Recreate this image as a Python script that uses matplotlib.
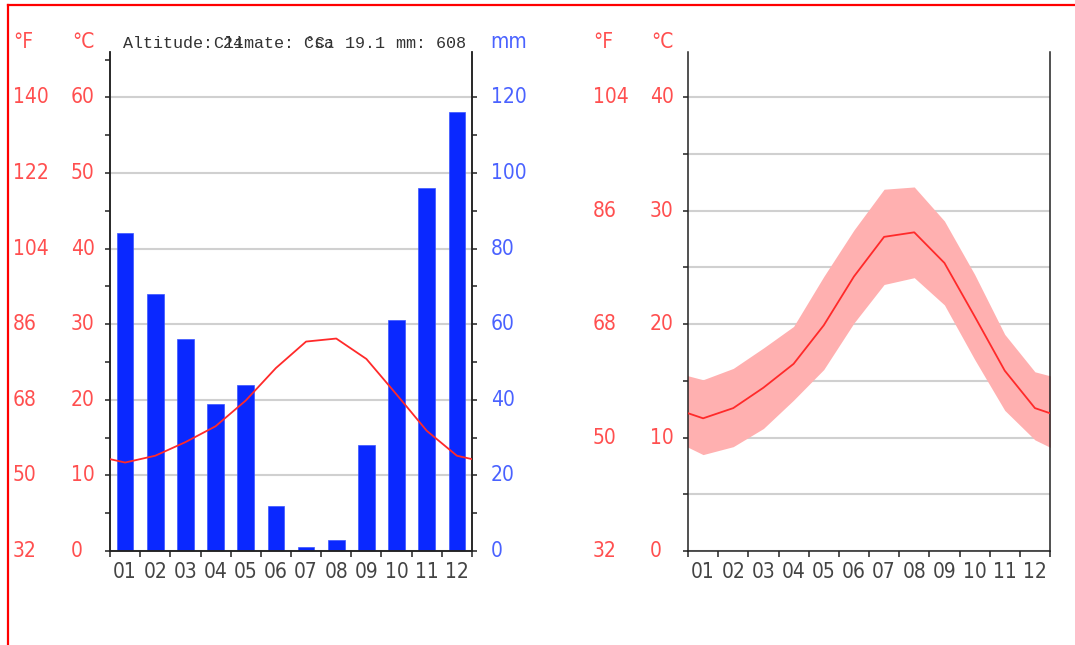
import numpy as np
import matplotlib
matplotlib.use('Agg')
import matplotlib.pyplot as plt
from matplotlib import font_manager
from matplotlib.font_manager import FontProperties
from matplotlib.lines import Line2D
from matplotlib.transforms import blended_transform_factory

# climate data
months = ['01', '02', '03', '04', '05', '06', '07', '08', '09', '10', '11', '12']
temp_mean = [11.7, 12.6, 14.4, 16.5, 19.9, 24.2, 27.7, 28.1, 25.4, 20.7, 15.9, 12.6]
temp_max = [15.1, 16.1, 17.9, 19.8, 24.2, 28.3, 31.9, 32.1, 29.1, 24.4, 19.1, 15.8]
temp_min = [8.5, 9.2, 10.8, 13.3, 16.0, 20.1, 23.5, 24.1, 21.7, 16.9, 12.4, 9.8]
precip = [84, 68, 56, 39, 44, 12, 1, 3, 28, 61, 96, 116]
altitude = 24
climate = 'Csa'

c_ticks = [0, 10, 20, 30, 40, 50, 60]
f_ticks = [32, 50, 68, 86, 104, 122, 140]
mm_ticks = [0, 20, 40, 60, 80, 100, 120]
c_ticks2 = [0, 10, 20, 30, 40]
f_ticks2 = [32, 50, 68, 86, 104]

W, H = 1075, 645

# prefer a narrow face for the labels if one is installed
fl = font_manager.fontManager.ttflist
if any(f.name == 'Liberation Sans Narrow' for f in fl):
    lab = FontProperties(family='Liberation Sans Narrow', size=16)
elif any(f.name == 'DejaVu Sans' and f.stretch == 'condensed' for f in fl):
    lab = FontProperties(family='DejaVu Sans', stretch='condensed', size=15)
else:
    lab = FontProperties(family='Liberation Sans', size=14)
mono = FontProperties(family='Liberation Mono', size=12.1)

RED = '#ff4f4f'
BLUE = '#4a62ff'
BAR = '#0a28ff'
LINE = '#ff2a2a'
BAND = '#ffb0b0'
GRID = '#d0d0d0'
DARK = '#222222'

fig = plt.figure(figsize=(W / 100, H / 100), dpi=100)

x = np.arange(1, 13)
# wrap Dec before Jan and Jan after Dec so the curve runs to the axis edges
xw = np.arange(0, 14)
def wrap(v):
    return np.r_[v[-1], v, v[0]]


def style_axes(ax, top_c):
    ax.set_xlim(0.5, 12.5)
    ax.set_ylim(0, top_c)
    ax.spines['top'].set_visible(False)
    for s in ['left', 'right', 'bottom']:
        ax.spines[s].set_color(DARK)
        ax.spines[s].set_linewidth(1.1)
    ax.set_xticks(x, months)
    ax.set_xticks(np.arange(0.5, 13, 1), minor=True)
    ax.tick_params(axis='x', which='major', length=0, pad=8,
                   labelcolor='#444444')
    ax.tick_params(axis='x', which='minor', length=4, width=1.1,
                   direction='out', color=DARK)
    for t in ax.get_xticklabels():
        t.set_fontproperties(lab)
    ax.set_yticks(np.arange(0, top_c, 5))
    ax.tick_params(axis='y', which='both', length=3.5, width=1.1,
                   color=DARK, labelleft=False)


def side_labels(ax, cvals, fvals, fx, cx):
    tr = blended_transform_factory(fig.transFigure, ax.transData)
    for c, f in zip(cvals, fvals):
        ax.text(fx / W, c, str(f), transform=tr, ha='left', va='center',
                color=RED, fontproperties=lab)
        ax.text(cx / W, c, str(c), transform=tr, ha='left', va='center',
                color=RED, fontproperties=lab)
    fig.text(fx / W, 1 - 42 / H, '°F', ha='left', va='center', color=RED,
             fontproperties=lab)
    fig.text((cx + 1) / W, 1 - 42 / H, '°C', ha='left', va='center', color=RED,
             fontproperties=lab)


# left panel: precipitation bars + mean temperature
ax1 = fig.add_axes([110 / W, 1 - 551 / H, 362 / W, 499 / H])
style_axes(ax1, 66)
ax1m = ax1.twinx()
ax1m.set_ylim(0, 132)
ax1m.bar(x, precip, width=0.55, color=BAR, edgecolor='#3a55ff', linewidth=0.5, zorder=2)
ax1m.set_yticks(mm_ticks)
ax1m.set_yticks(np.arange(10, 130, 20), minor=True)
ax1m.tick_params(axis='y', which='both', length=3.5, width=1.1, color=DARK,
                 labelright=False)
ax1m.grid(axis='y', which='major', color=GRID, linewidth=1.5)
ax1m.set_axisbelow(True)
ax1m.spines['top'].set_visible(False)
for s in ['left', 'right', 'bottom']:
    ax1m.spines[s].set_color(DARK)
    ax1m.spines[s].set_linewidth(1.1)
ax1.set_zorder(ax1m.get_zorder() + 1)
ax1.patch.set_visible(False)
ax1.plot(xw, wrap(temp_mean), color=LINE, linewidth=1.3, zorder=3)

side_labels(ax1, c_ticks, f_ticks, 13, 71)
trm = blended_transform_factory(fig.transFigure, ax1m.transData)
for m in mm_ticks:
    ax1m.text(491 / W, m, str(m), transform=trm, ha='left', va='center',
              color=BLUE, fontproperties=lab)
fig.text(490 / W, 1 - 42 / H, 'mm', ha='left', va='center', color=BLUE,
         fontproperties=lab)

# header strings share one line, nine characters apart
header = ['Altitude: %d' % altitude, 'Climate: %s' % climate,
          '°C: %.1f' % np.mean(temp_mean), 'mm: %d' % np.sum(precip)]
for i, s in enumerate(header):
    fig.text((123 + i * 9 * 10.1) / W, 1 - 44 / H, s, ha='left', va='center',
             color='#333333', fontproperties=mono)

# right panel: temperature range
ax2 = fig.add_axes([688 / W, 1 - 551 / H, 362 / W, 499 / H])
style_axes(ax2, 44)
ax2.tick_params(axis='y', right=False)
ax2.grid(axis='y', color=GRID, linewidth=1.5)
ax2.set_axisbelow(True)
ax2.fill_between(xw, wrap(temp_min), wrap(temp_max), color=BAND, linewidth=0, zorder=2)
ax2.plot(xw, wrap(temp_mean), color=LINE, linewidth=1.3, zorder=3)
side_labels(ax2, c_ticks2, f_ticks2, 593, 650)

# red frame, left and top edges
fig.add_artist(Line2D([8 / W, 8 / W], [0, 1 - 5 / H], color='red', linewidth=1.6))
fig.add_artist(Line2D([8 / W, 1], [1 - 5 / H, 1 - 5 / H], color='red', linewidth=1.6))

fig.savefig('out.png', dpi=100)
